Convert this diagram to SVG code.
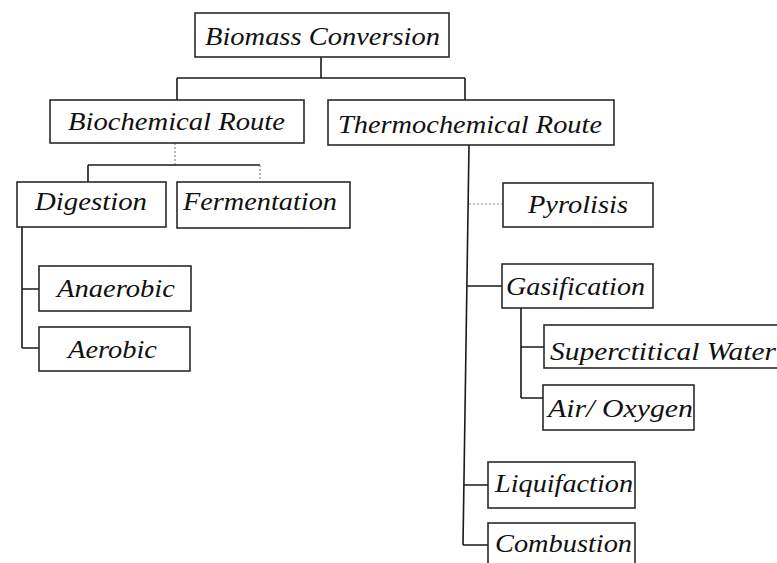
<svg xmlns="http://www.w3.org/2000/svg" width="777" height="563" viewBox="0 0 777 563">
<style>
.box{fill:#fff;stroke:#2a2a2a;stroke-width:1.6}
.t{font-family:"Liberation Serif","DejaVu Serif",serif;font-style:italic;font-size:25px;fill:#111}
.c{fill:none;stroke:#1a1a1a;stroke-width:1.6}
.cl{fill:none;stroke:#888;stroke-width:1.2;stroke-dasharray:2 2}
</style>
<rect width="777" height="563" fill="#fff"/>
<g id="connectors">
<path class="c" d="M321 57V78M177 78H465M177 78V100M465 78V100"/>
<path class="cl" d="M175 143V165"/>
<path class="c" d="M88 165H260M88 165V182"/>
<path class="cl" d="M260 165V182"/>
<path class="c" d="M22 227V348M22 289H39M22 348H39"/>
<path class="c" d="M469 145L463 545M467 286H502M464 485H488M463 545H488"/>
<path class="cl" d="M469 204H503"/>
<path class="c" d="M521 308V398M521 347H544M521 398H543"/>
</g>
<g id="n-biomass"><rect class="box" x="195" y="13" width="254" height="44"/><text class="t" x="205" y="45" font-size="27" textLength="235" lengthAdjust="spacingAndGlyphs">Biomass Conversion</text></g>
<g id="n-biochemical"><rect class="box" x="50" y="100" width="254" height="43"/><text class="t" x="68" y="130" textLength="217" lengthAdjust="spacingAndGlyphs">Biochemical Route</text></g>
<g id="n-thermochemical"><rect class="box" x="328" y="100" width="286" height="45"/><text class="t" x="338" y="133" font-size="26" textLength="264" lengthAdjust="spacingAndGlyphs">Thermochemical Route</text></g>
<g id="n-digestion"><rect class="box" x="17" y="182" width="149" height="45"/><text class="t" x="35" y="210" textLength="112" lengthAdjust="spacingAndGlyphs">Digestion</text></g>
<g id="n-fermentation"><rect class="box" x="177" y="182" width="173" height="46"/><text class="t" x="183" y="210" textLength="154" lengthAdjust="spacingAndGlyphs">Fermentation</text></g>
<g id="n-anaerobic"><rect class="box" x="39" y="266" width="152" height="45"/><text class="t" x="57" y="297" textLength="118" lengthAdjust="spacingAndGlyphs">Anaerobic</text></g>
<g id="n-aerobic"><rect class="box" x="39" y="327" width="151" height="44"/><text class="t" x="68" y="358" textLength="89" lengthAdjust="spacingAndGlyphs">Aerobic</text></g>
<g id="n-pyrolisis"><rect class="box" x="503" y="183" width="150" height="44"/><text class="t" x="528" y="213" textLength="100" lengthAdjust="spacingAndGlyphs">Pyrolisis</text></g>
<g id="n-gasification"><rect class="box" x="502" y="264" width="151" height="44"/><text class="t" x="506" y="295" textLength="139" lengthAdjust="spacingAndGlyphs">Gasification</text></g>
<g id="n-supercritical"><rect class="box" x="544" y="325" width="240" height="43"/><text class="t" x="550" y="360" textLength="226" lengthAdjust="spacingAndGlyphs">Superctitical Water</text></g>
<g id="n-airoxygen"><rect class="box" x="543" y="385" width="151" height="45"/><text class="t" x="548" y="417" textLength="145" lengthAdjust="spacingAndGlyphs">Air/ Oxygen</text></g>
<g id="n-liquifaction"><rect class="box" x="488" y="462" width="147" height="46"/><text class="t" x="495" y="492" textLength="138" lengthAdjust="spacingAndGlyphs">Liquifaction</text></g>
<g id="n-combustion"><rect class="box" x="488" y="523" width="147" height="50"/><text class="t" x="495" y="552" textLength="137" lengthAdjust="spacingAndGlyphs">Combustion</text></g>
</svg>
